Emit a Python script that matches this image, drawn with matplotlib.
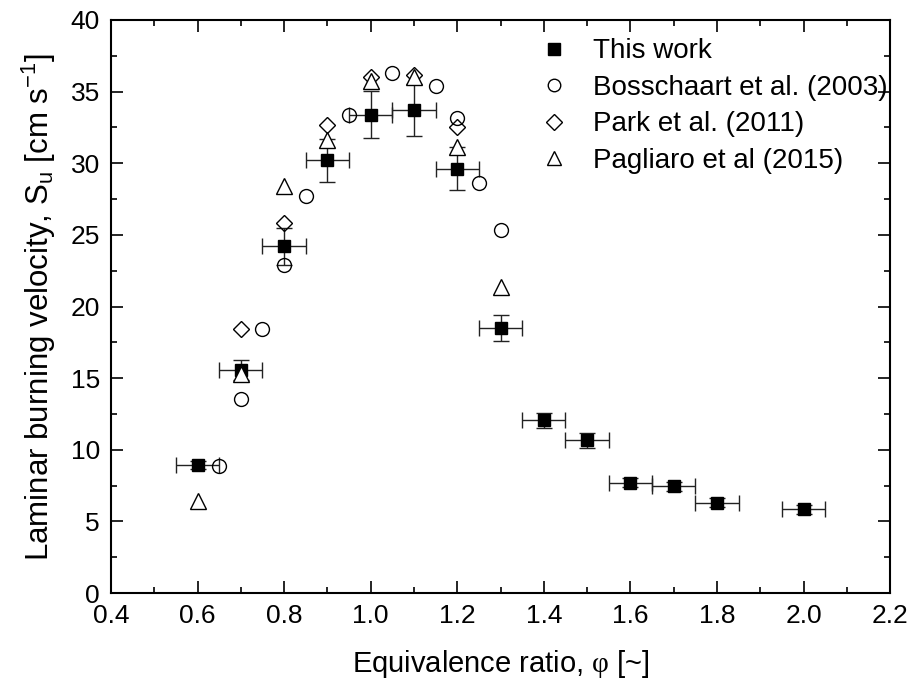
import matplotlib
matplotlib.use('Agg')
import matplotlib.pyplot as plt
from matplotlib.ticker import MultipleLocator

plt.rcParams['font.family'] = ['Liberation Sans', 'DejaVu Sans']
plt.rcParams['mathtext.fontset'] = 'custom'
plt.rcParams['mathtext.rm'] = 'Liberation Sans'
plt.rcParams['mathtext.it'] = 'Liberation Sans:italic'
plt.rcParams['mathtext.sf'] = 'Liberation Serif'

# this work
phi_tw = [0.6, 0.7, 0.8, 0.9, 1.0, 1.1, 1.2, 1.3, 1.4, 1.5, 1.6, 1.7, 1.8, 2.0]
su_tw = [8.95, 15.55, 24.2, 30.2, 33.4, 33.7, 29.6, 18.5, 12.05, 10.65, 7.7, 7.45, 6.3, 5.85]
su_err = [0.3, 0.7, 1.3, 1.5, 1.65, 1.8, 1.5, 0.9, 0.55, 0.5, 0.3, 0.3, 0.3, 0.3]
phi_err = [0.05] * 14

# Bosschaart et al. (2003)
phi_bo = [0.65, 0.7, 0.75, 0.8, 0.85, 0.95, 1.05, 1.15, 1.2, 1.25, 1.3]
su_bo = [8.9, 13.55, 18.4, 22.9, 27.7, 33.4, 36.3, 35.4, 33.15, 28.6, 25.35]

# Park et al. (2011)
phi_pa = [0.7, 0.8, 0.9, 1.0, 1.1, 1.2]
su_pa = [18.4, 25.85, 32.65, 36.0, 36.15, 32.5]

# Pagliaro et al (2015)
phi_pg = [0.6, 0.7, 0.8, 0.9, 1.0, 1.1, 1.2, 1.3]
su_pg = [6.4, 15.3, 28.4, 31.6, 35.75, 36.05, 31.15, 21.35]

fig = plt.figure(figsize=(9.12, 6.88), dpi=100)
ax = fig.add_axes([0.1217, 0.138, 0.8543, 0.833])

eb = ax.errorbar(phi_tw, su_tw, yerr=su_err, xerr=phi_err, fmt='s', color='black',
                 ecolor='#222222', elinewidth=1.0, capsize=6, capthick=1.0,
                 markersize=9, zorder=3)
h_bo, = ax.plot(phi_bo, su_bo, 'o', markerfacecolor='none', markeredgecolor='black',
                markeredgewidth=1.0, markersize=10, zorder=4)
h_pa, = ax.plot(phi_pa, su_pa, 'D', markerfacecolor='none', markeredgecolor='black',
                markeredgewidth=1.0, markersize=8.5, zorder=4)
h_pg, = ax.plot(phi_pg, su_pg, '^', markerfacecolor='white', markeredgecolor='black',
                markeredgewidth=1.0, markersize=11, zorder=5)

ax.set_xlim(0.4, 2.2)
ax.set_ylim(0, 40)
ax.xaxis.set_major_locator(MultipleLocator(0.2))
ax.xaxis.set_minor_locator(MultipleLocator(0.1))
ax.yaxis.set_major_locator(MultipleLocator(5))
ax.yaxis.set_minor_locator(MultipleLocator(2.5))
ax.xaxis.set_major_formatter(matplotlib.ticker.FormatStrFormatter('%.1f'))

ax.tick_params(which='both', direction='in', top=True, right=True, width=1.2,
               labelsize=19, pad=8)
ax.tick_params(which='major', length=8.5)
ax.tick_params(which='minor', length=4.5)
for s in ax.spines.values():
    s.set_linewidth(1.5)

ax.set_xlabel('Equivalence ratio, $\\mathsf{\\varphi}$ [~]', fontsize=21, labelpad=14)
ax.set_ylabel('Laminar burning velocity, S$_\\mathrm{u}$ [cm s$^\\mathrm{-1}$]',
              fontsize=22.5, labelpad=9)

ax.legend([eb[0], h_bo, h_pa, h_pg],
          ['This work', 'Bosschaart et al. (2003)', 'Park et al. (2011)', 'Pagliaro et al (2015)'],
          loc='upper left', bbox_to_anchor=(0.551, 0.968), frameon=False, fontsize=20,
          handletextpad=0.9, labelspacing=0.38, borderaxespad=0, borderpad=0,
          handlelength=1.0, markerscale=0.9)

plt.savefig('out.png', dpi=100)
